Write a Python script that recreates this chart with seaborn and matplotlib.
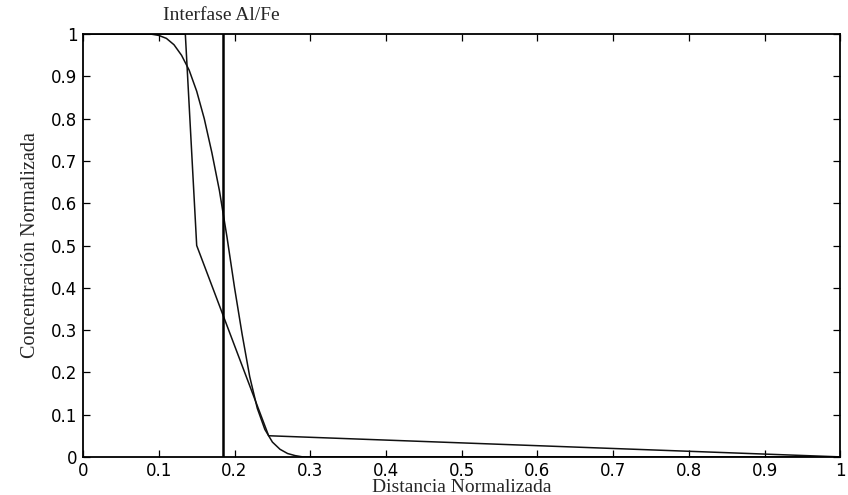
import matplotlib
matplotlib.use("Agg")
import matplotlib.pyplot as plt
import seaborn as sns
import pandas as pd

# Smooth diffusion profile
x_smooth = [0.0, 0.09, 0.10, 0.11, 0.12, 0.13, 0.14, 0.15, 0.16, 0.17, 0.18,
            0.19, 0.20, 0.21, 0.22, 0.23, 0.24, 0.25, 0.26, 0.27, 0.28, 0.29, 1.0]
y_smooth = [1.0, 1.0, 0.997, 0.99, 0.975, 0.95, 0.915, 0.865, 0.80, 0.72, 0.63,
            0.52, 0.40, 0.29, 0.19, 0.115, 0.065, 0.035, 0.018, 0.008, 0.003, 0.0, 0.0]

# Piecewise-linear profile
x_linear = [0.0, 0.135, 0.15, 0.245, 1.0]
y_linear = [1.0, 1.0, 0.5, 0.05, 0.0]

# Position of the Al/Fe interface
interface_x = 0.185

x_ticks = [0, 0.1, 0.2, 0.3, 0.4, 0.5, 0.6, 0.7, 0.8, 0.9, 1]
y_ticks = [0, 0.1, 0.2, 0.3, 0.4, 0.5, 0.6, 0.7, 0.8, 0.9, 1]
tick_labels = ["0", "0.1", "0.2", "0.3", "0.4", "0.5", "0.6", "0.7", "0.8", "0.9", "1"]

sns.set_style("ticks")
plt.rcParams["font.family"] = ["DejaVu Sans"]
serif = ["Liberation Serif", "DejaVu Serif"]

fig = plt.figure(figsize=(8.48, 4.95), dpi=100)
ax = fig.add_axes([0.098, 0.077, 0.893, 0.854])

df_s = pd.DataFrame({"x": x_smooth, "y": y_smooth})
df_l = pd.DataFrame({"x": x_linear, "y": y_linear})
sns.lineplot(data=df_s, x="x", y="y", ax=ax, color="#111111", linewidth=1.1, sort=False)
sns.lineplot(data=df_l, x="x", y="y", ax=ax, color="#111111", linewidth=1.1, sort=False)
ax.axvline(interface_x, color="#000000", linewidth=1.8)

ax.set_xlim(0, 1)
ax.set_ylim(0, 1)
ax.set_xticks(x_ticks)
ax.set_xticklabels(tick_labels)
ax.set_yticks(y_ticks)
ax.set_yticklabels(tick_labels)
ax.tick_params(direction="in", top=True, right=True, length=5, width=0.9,
               labelsize=12, colors="#000000")
ax.tick_params(axis="y", pad=4)
ax.tick_params(axis="x", pad=4)
for sp in ax.spines.values():
    sp.set_linewidth(1.3)
    sp.set_color("#000000")

ax.set_xlabel("Distancia Normalizada", family=serif, fontsize=14, labelpad=-1)
ax.set_ylabel("Concentración Normalizada", family=serif, fontsize=14.5, labelpad=8)
fig.text(221 / 848, 1 - 16 / 495, "Interfase Al/Fe", family=serif,
         fontsize=14, ha="center", va="center")

fig.savefig("out.png", dpi=100)
